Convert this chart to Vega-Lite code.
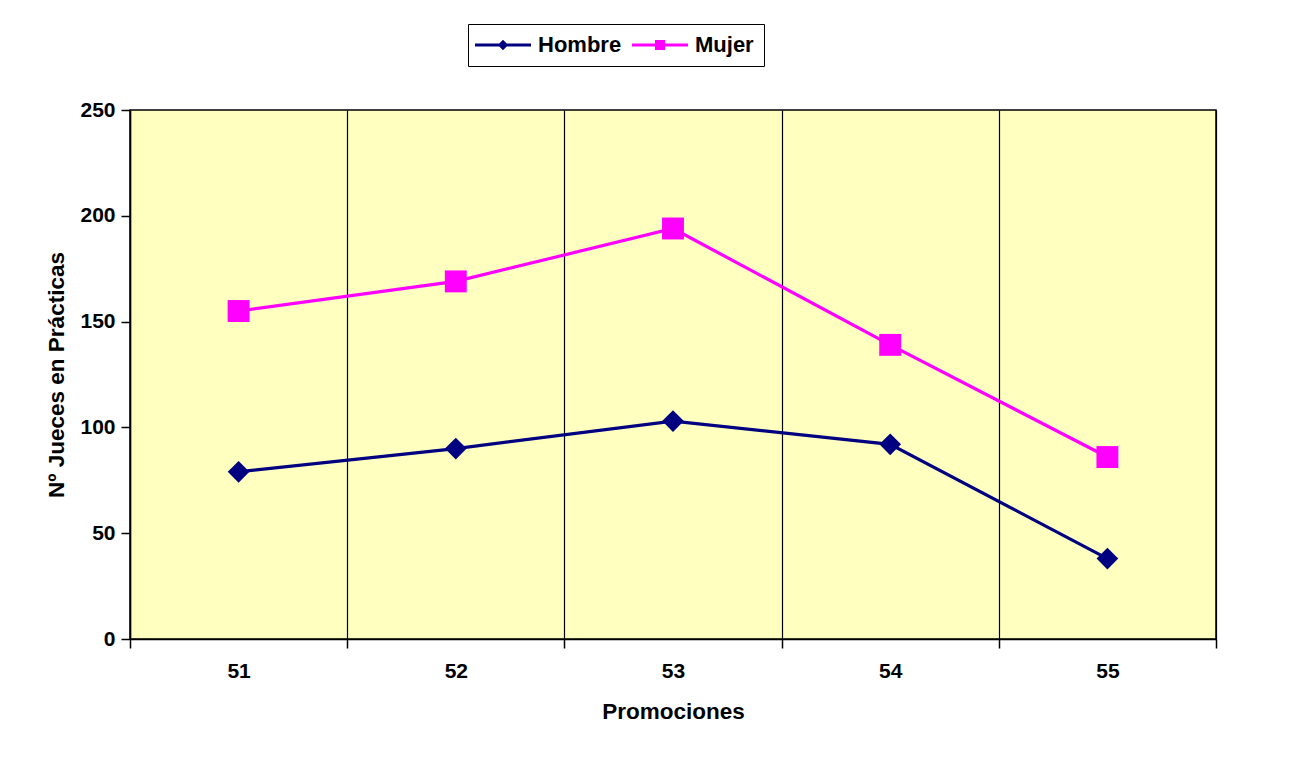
{
  "$schema": "https://vega.github.io/schema/vega-lite/v6.json",
  "autosize": {"type": "none"},
  "width": 1086,
  "height": 529,
  "padding": {"left": 130, "top": 110, "right": 73, "bottom": 119},
  "background": "white",
  "config": {
    "font": "Liberation Sans",
    "view": {"fill": "#FFFFC0", "stroke": "black", "strokeWidth": 1.5},
    "axis": {"domainColor": "black", "tickColor": "black", "labelColor": "black", "titleColor": "black", "labelFont": "Liberation Sans", "titleFont": "Liberation Sans", "labelFontWeight": "bold", "titleFontWeight": "bold", "labelFontSize": 21, "titleFontSize": 22.5, "domainWidth": 1.5, "tickWidth": 1.5}
  },
  "data": {
    "values": [
      {"promo": "51", "sexo": "Hombre", "n": 79},
      {"promo": "52", "sexo": "Hombre", "n": 90},
      {"promo": "53", "sexo": "Hombre", "n": 103},
      {"promo": "54", "sexo": "Hombre", "n": 92},
      {"promo": "55", "sexo": "Hombre", "n": 38},
      {"promo": "51", "sexo": "Mujer", "n": 155},
      {"promo": "52", "sexo": "Mujer", "n": 169},
      {"promo": "53", "sexo": "Mujer", "n": 194},
      {"promo": "54", "sexo": "Mujer", "n": 139},
      {"promo": "55", "sexo": "Mujer", "n": 86}
    ]
  },
  "encoding": {
    "x": {
      "field": "promo", "type": "ordinal",
      "scale": {"type": "band", "paddingInner": 0, "paddingOuter": 0},
      "axis": {"title": "Promociones", "labelAngle": 0, "tickBand": "extent", "grid": true, "gridColor": "black", "gridWidth": 1.2, "gridOpacity": 1, "tickSize": 9, "labelPadding": 12, "titlePadding": 19}
    },
    "y": {
      "field": "n", "type": "quantitative",
      "scale": {"domain": [0, 250], "nice": false},
      "axis": {"title": "Nº Jueces en Prácticas", "values": [0, 50, 100, 150, 200, 250], "grid": false, "tickSize": 9, "labelPadding": 6, "titlePadding": 11}
    },
    "color": {
      "field": "sexo", "type": "nominal",
      "scale": {"domain": ["Hombre", "Mujer"], "range": ["#000080", "#FF00FF"]},
      "legend": {
        "title": null, "orient": "none", "legendX": 338, "legendY": -86, "direction": "horizontal",
        "strokeColor": "black", "fillColor": "white", "padding": 10,
        "labelFont": "Liberation Sans", "labelFontWeight": "bold", "labelFontSize": 22, "labelColor": "black",
        "symbolSize": 100, "symbolOffset": 14, "labelOffset": 24, "columnPadding": 10, "symbolStrokeWidth": 0, "symbolOpacity": 1
      }
    }
  },
  "layer": [
    {"mark": {"type": "line", "strokeWidth": 3.2}, "encoding": {}},
    {
      "transform": [{"filter": "datum.sexo === 'Hombre'"}],
      "mark": {"type": "point", "filled": true, "opacity": 1, "shape": "diamond", "size": 470},
      "encoding": {}
    },
    {
      "transform": [{"filter": "datum.sexo === 'Mujer'"}],
      "mark": {"type": "point", "filled": true, "opacity": 1, "shape": "square", "size": 480},
      "encoding": {}
    },
    {
      "mark": {"type": "point", "filled": true, "opacity": 0, "size": 100},
      "encoding": {
        "shape": {
          "field": "sexo", "type": "nominal",
          "scale": {"domain": ["Hombre", "Mujer"], "range": ["M-5.6,-0.3H5.6V0.3H-5.6Z M0,-1.05L1.05,0L0,1.05L-1.05,0Z", "M-5.6,-0.3H5.6V0.3H-5.6Z M-1,-1H1V1H-1Z"]},
          "legend": {
            "title": null, "orient": "none", "legendX": 338, "legendY": -86, "direction": "horizontal",
            "strokeColor": "black", "fillColor": "white", "padding": 10,
            "labelFont": "Liberation Sans", "labelFontWeight": "bold", "labelFontSize": 22, "labelColor": "black",
            "symbolSize": 100, "symbolOffset": 14, "labelOffset": 24, "columnPadding": 10, "symbolStrokeWidth": 0, "symbolOpacity": 1
          }
        }
      }
    }
  ]
}
